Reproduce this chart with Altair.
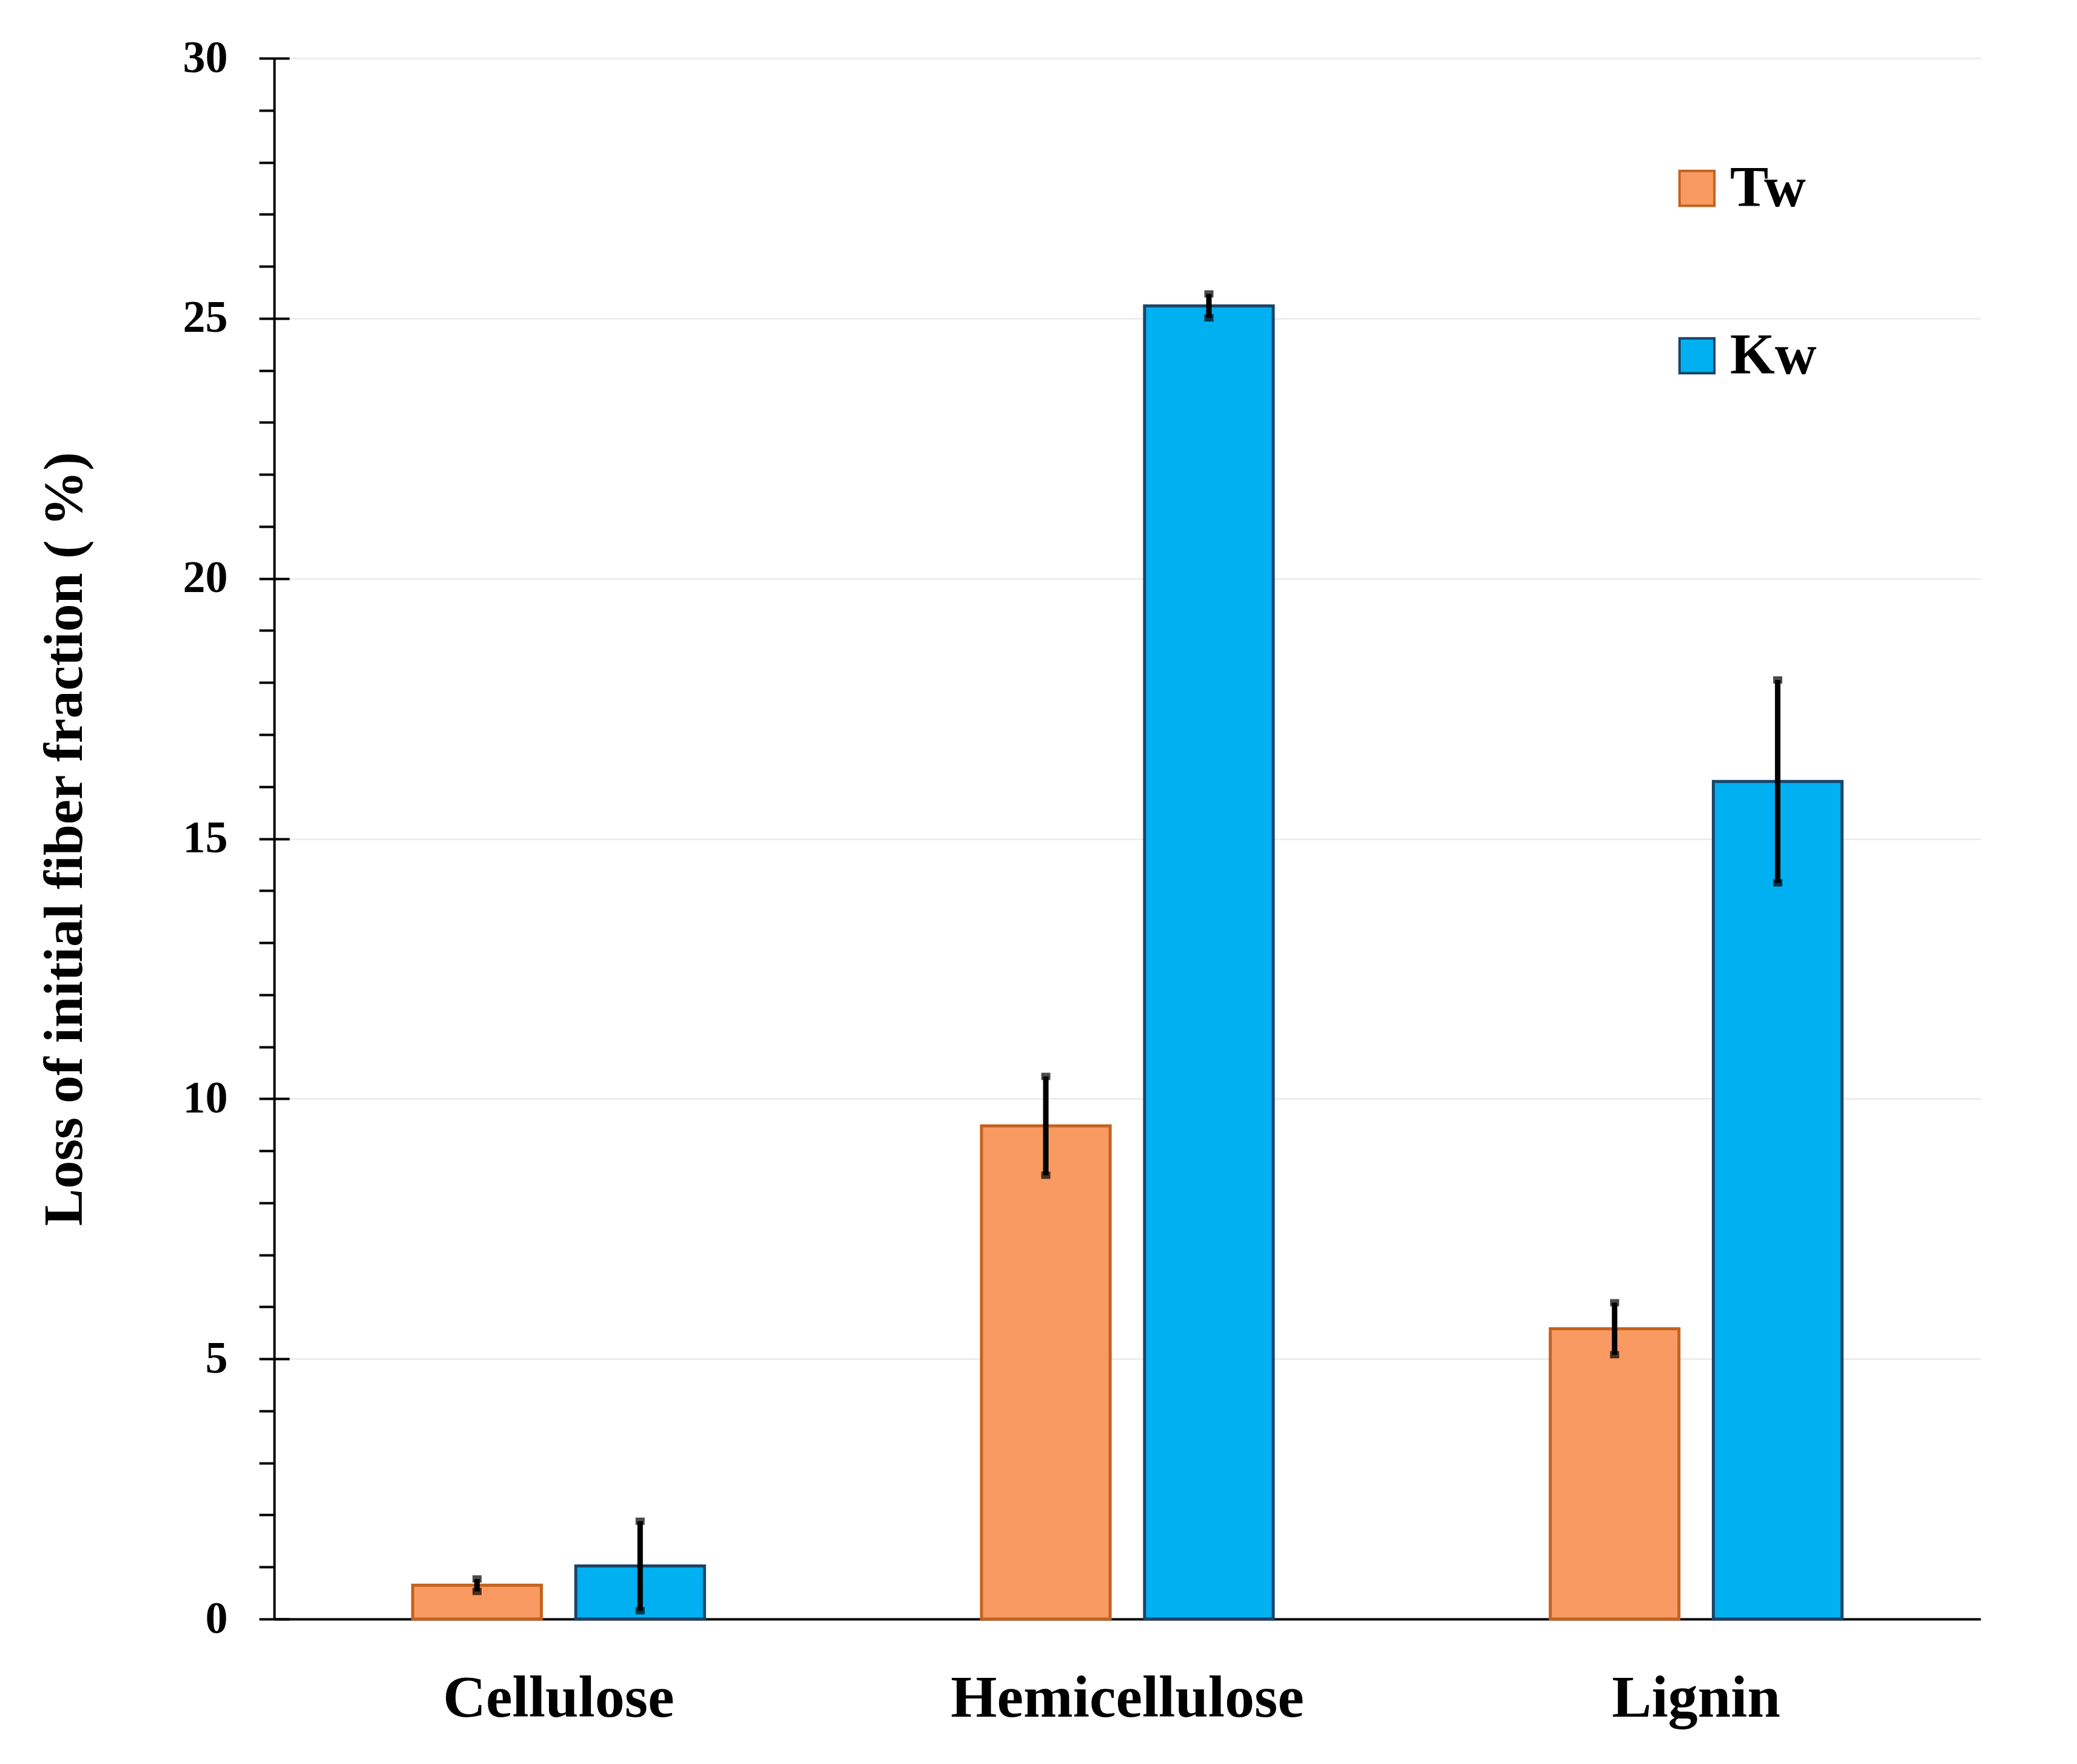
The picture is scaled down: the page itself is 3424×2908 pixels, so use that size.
import altair as alt
import pandas as pd

categories = ["Cellulose", "Hemicellulose", "Lignin"]
series = ["Tw", "Kw"]
tw_values = [0.65, 9.48, 5.58]
tw_errors = [0.12, 0.95, 0.50]
kw_values = [1.02, 25.24, 16.10]
kw_errors = [0.86, 0.23, 1.95]
fill_colors = ["#F89A62", "#00B0F0"]
stroke_colors = ["#C5621E", "#1B4468"]
y_minor_ticks = list(range(0, 31))
y_major_ticks = [0, 5, 10, 15, 20, 25, 30]

rows = []
for name, vals, errs in (("Tw", tw_values, tw_errors), ("Kw", kw_values, kw_errors)):
    for c, v, e in zip(categories, vals, errs):
        rows.append({"category": c, "series": name, "value": v, "lo": v - e, "hi": v + e})
df = pd.DataFrame(rows)

FONT = "Liberation Serif"
W, H = 2813, 2573

yscale = alt.Scale(domain=[0, 30], nice=False, zero=True)

x = alt.X(
    "category:N",
    sort=categories,
    scale=alt.Scale(paddingInner=0.487, paddingOuter=0.2435),
    axis=alt.Axis(
        title=None, ticks=False, labelAngle=0, labelFont=FONT, labelFontSize=98,
        labelFontWeight="bold", labelColor="black", labelPadding=83, labelLimit=0,
        domainColor="black", domainWidth=4, grid=False,
    ),
)
xo = alt.XOffset("series:N", sort=series, scale=alt.Scale(paddingInner=0.211, paddingOuter=0))

legend = alt.Legend(
    title=None, orient="none", legendX=2298, legendY=167, padding=0,
    symbolType="square", symbolSize=3300, symbolStrokeWidth=4, symbolOpacity=1,
    labelFont=FONT, labelFontSize=95, labelFontWeight="bold", labelColor="black",
    labelOffset=7, rowPadding=180, direction="vertical",
)

y_main_axis = alt.Axis(
    values=y_minor_ticks,
    labelExpr="datum.value % 5 === 0 ? datum.label : ''",
    tickSize=25, tickWidth=4, tickColor="black",
    domainColor="black", domainWidth=4,
    labelFont=FONT, labelFontSize=74, labelFontWeight="bold", labelColor="black",
    labelPadding=52,
    title="Loss of initial fiber fraction ( %)", titleFont=FONT, titleFontSize=92,
    titleFontWeight="bold", titleColor="black", titlePadding=148,
    grid=True,
    gridColor={"condition": {"test": "datum.value % 5 === 0", "value": "#EDEDED"}, "value": "rgba(0,0,0,0)"},
    gridWidth=3,
)

bars = alt.Chart(df).mark_bar(strokeWidth=5).encode(
    x=x,
    xOffset=xo,
    y=alt.Y("value:Q", scale=yscale, axis=y_main_axis),
    fill=alt.Fill("series:N", scale=alt.Scale(domain=series, range=fill_colors), legend=legend),
    stroke=alt.Stroke("series:N", scale=alt.Scale(domain=series, range=stroke_colors), legend=legend),
)

# second axis carrying only the inward half of the major ticks
inner_ticks = alt.Chart(df).mark_bar(opacity=0).encode(
    x=x,
    xOffset=xo,
    y=alt.Y(
        "value:Q", scale=yscale,
        axis=alt.Axis(
            orient="left", offset=-25, values=y_major_ticks, labels=False, domain=False,
            tickSize=25, tickWidth=4, tickColor="black", title=None, grid=False,
        ),
    ),
)

err = alt.Chart(df).mark_rule(color="black", strokeWidth=9).encode(
    x=x,
    xOffset=xo,
    y=alt.Y("lo:Q", scale=yscale, axis=None),
    y2="hi:Q",
)

cap_hi = alt.Chart(df).mark_tick(color="black", thickness=12, size=15).encode(
    x=x, xOffset=xo, y=alt.Y("hi:Q", scale=yscale, axis=None)
)
cap_lo = alt.Chart(df).mark_tick(color="black", thickness=12, size=15).encode(
    x=x, xOffset=xo, y=alt.Y("lo:Q", scale=yscale, axis=None)
)

chart = (
    alt.layer(bars, inner_ticks, err, cap_hi, cap_lo)
    .resolve_axis(y="independent")
    .properties(
        width=W, height=H, autosize="none",
        padding={"left": 444, "top": 88, "right": 100, "bottom": 200},
        background="white",
    )
    .configure_view(stroke=None)
)

chart.save("out.html", embed_options={"renderer": "svg", "actions": False})
